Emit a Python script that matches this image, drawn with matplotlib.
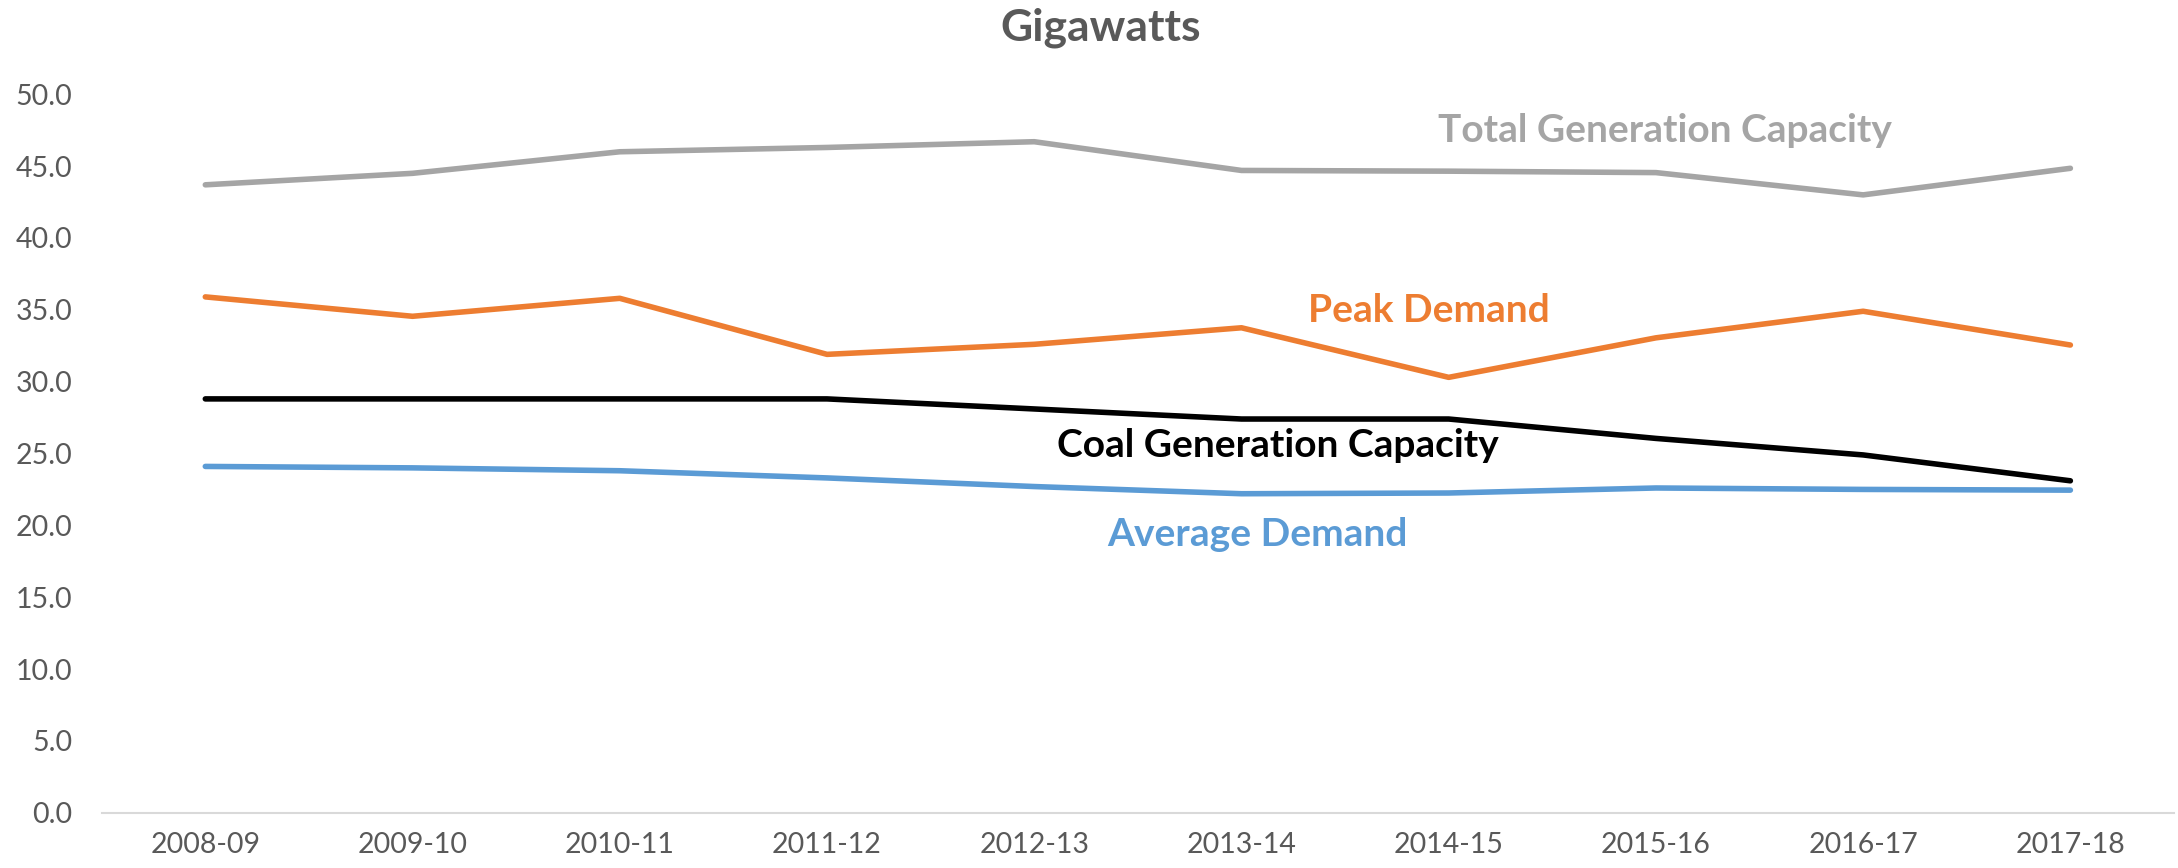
import matplotlib
matplotlib.use("Agg")
import matplotlib.pyplot as plt

plt.rcParams['font.family'] = ['Lato', 'DejaVu Sans']

years = ["2008-09", "2009-10", "2010-11", "2011-12", "2012-13",
         "2013-14", "2014-15", "2015-16", "2016-17", "2017-18"]
total_capacity = [43.7, 44.5, 46.0, 46.3, 46.7, 44.7, 44.65, 44.55, 43.0, 44.85]
peak_demand = [35.9, 34.55, 35.8, 31.9, 32.6, 33.75, 30.3, 33.05, 34.9, 32.55]
coal_capacity = [28.8, 28.8, 28.8, 28.8, 28.1, 27.4, 27.4, 26.05, 24.9, 23.1]
average_demand = [24.1, 24.0, 23.8, 23.3, 22.7, 22.2, 22.25, 22.6, 22.5, 22.45]
yticks = [0, 5, 10, 15, 20, 25, 30, 35, 40, 45, 50]

W, H = 2178, 868
fig = plt.figure(figsize=(W / 100, H / 100), dpi=100)
ax = fig.add_axes([101.7 / W, 1 - 812.7 / H, (2174 - 101.7) / W, (812.7 - 94.3) / H])

x = list(range(len(years)))
lw = 4.0
ax.plot(x, total_capacity, color="#A5A5A5", lw=lw, solid_capstyle="round", solid_joinstyle="round")
ax.plot(x, peak_demand, color="#ED7D31", lw=lw, solid_capstyle="round", solid_joinstyle="round")
ax.plot(x, coal_capacity, color="#000000", lw=lw, solid_capstyle="round", solid_joinstyle="round")
ax.plot(x, average_demand, color="#5B9BD5", lw=lw, solid_capstyle="round", solid_joinstyle="round")

ax.set_xlim(-0.5, len(years) - 0.5)
ax.set_ylim(0, 50)
ax.set_xticks(x)
ax.set_xticklabels(years)
ax.set_yticks(yticks)
ax.set_yticklabels([f"{v:.1f}" for v in yticks])
ax.tick_params(axis="both", length=0, labelsize=20.5, labelcolor="#595959")
ax.tick_params(axis="y", pad=21)
ax.tick_params(axis="x", pad=14)
for s in ["top", "right", "left"]:
    ax.spines[s].set_visible(False)
ax.spines["bottom"].set_color("#D9D9D9")
ax.spines["bottom"].set_linewidth(1.5)

def data_xy(px, py):
    # convert figure pixel (from top-left) to axes fraction
    return ((px - 101.7) / (2174 - 101.7), (812.7 - py) / (812.7 - 94.3))

lab_kw = dict(transform=ax.transAxes, ha="center", va="center", fontsize=28, fontweight="bold")
ax.text(*data_xy(1665, 131), "Total Generation Capacity", color="#A5A5A5", **lab_kw)
ax.text(*data_xy(1429, 311), "Peak Demand", color="#ED7D31", **lab_kw)
ax.text(*data_xy(1278, 445), "Coal Generation Capacity", color="#000000", **lab_kw)
ax.text(*data_xy(1257, 535), "Average Demand", color="#5B9BD5", **lab_kw)

fig.text(1101 / W, 1 - 28 / H, "Gigawatts", ha="center", va="center",
         fontsize=32, fontweight="bold", color="#595959")

fig.savefig("out.png", dpi=100, facecolor="white")
